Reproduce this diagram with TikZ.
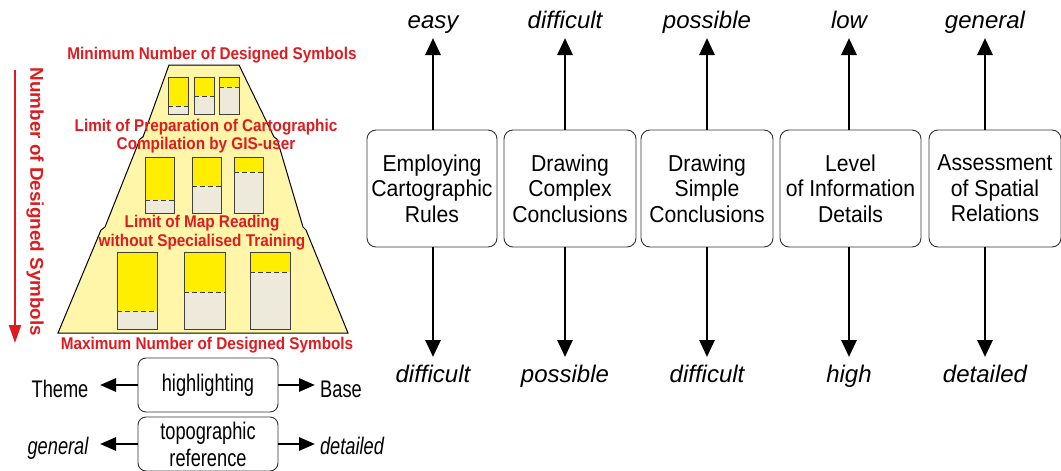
\documentclass[tikz,border=0pt]{standalone}
\usepackage{fontspec}
\setmainfont{Liberation Sans}
\newfontfamily\boxfont[FakeStretch=0.92]{Liberation Sans}
\newfontfamily\narrowfont[FakeStretch=0.76]{Liberation Sans}
\newfontfamily\redfont[FakeStretch=0.9]{Liberation Sans}
\newfontfamily\axisfont[FakeStretch=1.02]{Liberation Sans}
\usetikzlibrary{arrows.meta}
\definecolor{pyramidfill}{RGB}{255,246,170}
\definecolor{symbolyellow}{RGB}{255,238,0}
\definecolor{symbolgrey}{RGB}{237,234,220}
\definecolor{labelred}{RGB}{222,28,32}
\begin{document}
\begin{tikzpicture}[x=1pt,y=-1pt,
    topic/.style={draw=black!80,line width=0.9pt,rounded corners=9pt,align=center,
      inner sep=0pt,minimum height=117pt,font=\boxfont\fontsize{23}{25.5}\selectfont},
    ends/.style={font=\itshape\fontsize{24}{26}\selectfont,anchor=base,inner sep=0pt},
    arr/.style={line width=2.8pt,-{Triangle[length=17pt,width=15pt]}},
    smallbox/.style={draw=black!80,line width=0.9pt,rounded corners=8pt,align=center,
      inner sep=0pt,minimum width=140pt,minimum height=54pt,
      font=\narrowfont\fontsize{24}{27}\selectfont},
    sidelabel/.style={font=\narrowfont\fontsize{24}{27}\selectfont,anchor=base,inner sep=0pt},
    smallarr/.style={line width=2.8pt,-{Triangle[length=16pt,width=13pt]}},
    redlabel/.style={text=labelred,align=center,inner sep=0pt,
      font=\redfont\bfseries\fontsize{17}{18.5}\selectfont},
    redarr/.style={draw=labelred,line width=2.4pt,-{Triangle[length=18pt,width=12pt]}}]
  \useasboundingbox (0,0) rectangle (1061,471);
  % pyramid of symbol counts
  \draw[fill=pyramidfill,line width=1pt] (169,65) -- (143,137) -- (140,139)
    -- (105,227) -- (101,230) -- (58,333) -- (348,333) -- (306,230)
    -- (303,227) -- (277,139) -- (274,137) -- (239,65) -- cycle;
  \def\signbox#1#2#3#4#5{%
    \fill[symbolgrey] (#1,#5) rectangle (#3,#4);
    \fill[symbolyellow] (#1,#2) rectangle (#3,#5);
    \draw[black!75,line width=1pt,dash pattern=on 5pt off 3pt] (#1,#5) -- (#3,#5);
    \draw[black!75,line width=1pt] (#1,#2) rectangle (#3,#4);}
  \signbox{168}{77}{188}{114}{106}
  \signbox{194}{77}{214}{114}{96}
  \signbox{219}{77}{239}{114}{87}
  \signbox{145}{157}{174}{213}{200}
  \signbox{192}{157}{221}{213}{186}
  \signbox{234}{157}{263}{213}{172}
  \signbox{117}{252}{157}{329}{311}
  \signbox{184}{252}{225}{329}{292}
  \signbox{250}{252}{290}{329}{272}
  \node[redlabel] (minimum) at (212,55) {Minimum Number of Designed Symbols};
  \node[redlabel] (preparation) at (206,136) {Limit of Preparation of Cartographic\\Compilation by GIS-user};
  \node[redlabel] (reading) at (202,232.5) {Limit of Map Reading\\without Specialised Training};
  \node[redlabel] (maximum) at (207,345) {Maximum Number of Designed Symbols};
  % vertical axis
  \node[redlabel,rotate=-90,font=\axisfont\bfseries\fontsize{18.5}{20}\selectfont] (axis) at (35,202) {Number of Designed Symbols};
  \coordinate (axistop) at (15,70);
  \coordinate (axisend) at (15,343);
  \draw[redarr] (axistop) -- (axisend);
  % highlighting and topographic reference
  \node[smallbox] (highlight) at (208,385) {highlighting};
  \node[smallbox] (topo) at (208,444) {topographic\\reference};
  \node[sidelabel] (theme) at (60,397) {Theme};
  \node[sidelabel] (base) at (341,397) {Base};
  \node[sidelabel,font=\narrowfont\itshape\fontsize{24}{27}\selectfont] (general) at (58,454) {general};
  \node[sidelabel,font=\narrowfont\itshape\fontsize{24}{27}\selectfont] (detailed) at (352,454) {detailed};
  \coordinate (themetip) at (100,385);
  \coordinate (basetip) at (315,385);
  \coordinate (generaltip) at (100,444);
  \coordinate (detailedtip) at (315,444);
  \draw[smallarr] (highlight.west) -- (themetip);
  \draw[smallarr] (highlight.east) -- (basetip);
  \draw[smallarr] (topo.west) -- (generaltip);
  \draw[smallarr] (topo.east) -- (detailedtip);
  % map use criteria
  \foreach \n/\xc/\w/\xa/\txt/\up/\down in {
      rules/432/130/433/{Employing\\Cartographic\\Rules}/easy/difficult,
      complex/570/132/565/{Drawing\\Complex\\Conclusions}/difficult/possible,
      simple/707/132/707/{Drawing\\Simple\\Conclusions}/possible/difficult,
      level/850.5/141/849/{Level\\of Information\\Details}/low/high,
      spatial/995/132/985/{Assessment\\of Spatial\\Relations}/general/detailed} {
    \node[topic,minimum width=\w] (box\n) at (\xc,188.5) {\txt};
    \node[ends] (up\n) at (\xa,28) {\up};
    \node[ends] (down\n) at (\xa,382) {\down};
    \coordinate (tipup\n) at (\xa,38);
    \coordinate (tipdown\n) at (\xa,357);
    \draw[arr] (box\n.north -| tipup\n) -- (tipup\n);
    \draw[arr] (box\n.south -| tipdown\n) -- (tipdown\n);
  }
\end{tikzpicture}
\end{document}
